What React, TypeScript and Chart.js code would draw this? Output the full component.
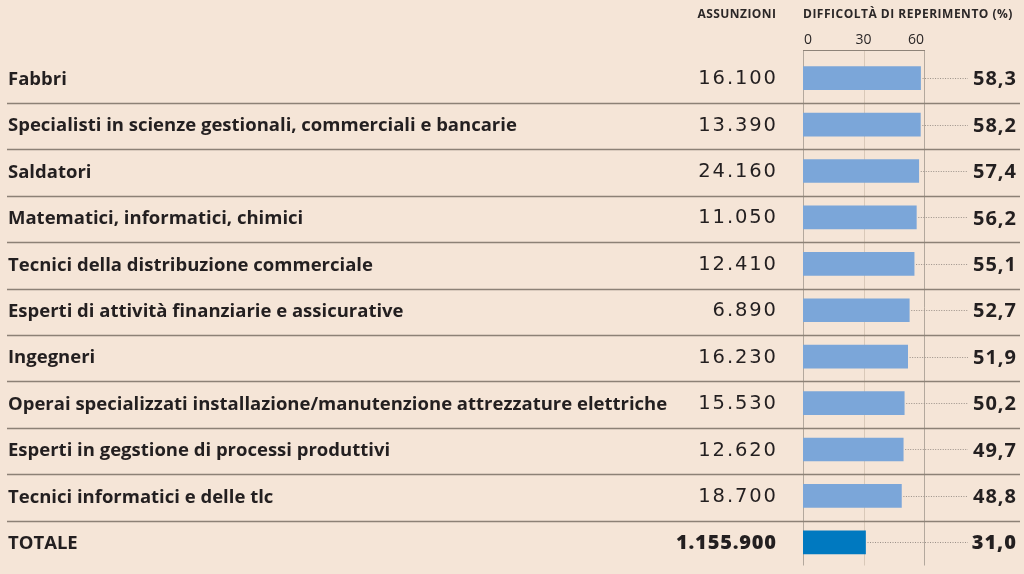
import { useEffect, useRef } from "react";
import { Chart, registerables } from "chart.js";
Chart.register(...registerables);

const categories = [
  "Fabbri",
  "Specialisti in scienze gestionali, commerciali e bancarie",
  "Saldatori",
  "Matematici, informatici, chimici",
  "Tecnici della distribuzione commerciale",
  "Esperti di attività finanziarie e assicurative",
  "Ingegneri",
  "Operai specializzati installazione/manutenzione attrezzature elettriche",
  "Esperti in gegstione di processi produttivi",
  "Tecnici informatici e delle tlc",
  "TOTALE",
];
const hires = [16100, 13390, 24160, 11050, 12410, 6890, 16230, 15530, 12620, 18700, 1155900];
const difficulty = [58.3, 58.2, 57.4, 56.2, 55.1, 52.7, 51.9, 50.2, 49.7, 48.8, 31.0];
const axisTicks = [0, 30, 60];
const headerHires = "ASSUNZIONI";
const headerDiff = "DIFFICOLTÀ DI REPERIMENTO (%)";

const BG = "#f5e5d7";
const BAR = "#7ba6d9";
const BAR_TOTAL = "#0079c0";
const TEXT = "#231f20";

function fmtThousands(n: number): string {
  const s = String(Math.round(n));
  let out = "";
  for (let i = 0; i < s.length; i++) {
    const fromEnd = s.length - i;
    out += s[i];
    if (fromEnd > 1 && (fromEnd - 1) % 3 === 0) out += ".";
  }
  return out;
}
function fmtPct(v: number): string {
  return v.toFixed(1).replace(".", ",");
}

function drawRight(ctx: any, text: string, x: number, y: number, spacing: number) {
  ctx.letterSpacing = spacing + "px";
  ctx.textAlign = "right";
  ctx.fillText(text, x + spacing, y);
  ctx.letterSpacing = "0px";
}

export default function App() {
  const ref = useRef<HTMLCanvasElement | null>(null);
  useEffect(() => {
    const canvas = ref.current;
    if (!canvas) return;
    const last = categories.length - 1;
    const overlay = {
      id: "tableOverlay",
      beforeDatasetsDraw(chart: any) {
        const ctx = chart.ctx;
        const xs = chart.scales.x;
        const ys = chart.scales.y;
        const band = ys.getPixelForValue(1) - ys.getPixelForValue(0);
        const x0 = xs.getPixelForValue(axisTicks[0]);
        const xN = xs.getPixelForValue(axisTicks[axisTicks.length - 1]);
        const topY = 50;
        const botY = ys.getPixelForValue(last) + band / 2;
        ctx.save();
        axisTicks.forEach((t, i) => {
          const x = Math.round(xs.getPixelForValue(t)) + 0.5;
          ctx.strokeStyle = i === 1 ? "#d9c9b9" : "#b3a89d";
          ctx.lineWidth = 1;
          ctx.beginPath();
          ctx.moveTo(x, topY);
          ctx.lineTo(x, botY);
          ctx.stroke();
        });
        ctx.strokeStyle = "#8e8378";
        ctx.beginPath();
        ctx.moveTo(Math.round(x0), topY + 0.5);
        ctx.lineTo(Math.round(xN) + 1, topY + 0.5);
        ctx.stroke();
        ctx.strokeStyle = "#8c8176";
        ctx.lineWidth = 1.3;
        for (let i = 0; i < last; i++) {
          const y = Math.round(ys.getPixelForValue(i) + band / 2 + 1.5) + 0.5;
          ctx.beginPath();
          ctx.moveTo(7, y);
          ctx.lineTo(1020, y);
          ctx.stroke();
        }
        ctx.restore();
      },
      afterDatasetsDraw(chart: any) {
        const ctx = chart.ctx;
        const xs = chart.scales.x;
        const ys = chart.scales.y;
        ctx.save();
        ctx.fillStyle = "#2b2727";
        ctx.textBaseline = "middle";
        ctx.font = "bold 12px 'Open Sans'";
        drawRight(ctx, headerHires, 776, 15, 0.45);
        ctx.textAlign = "left";
        ctx.letterSpacing = "0.5px";
        ctx.fillText(headerDiff, 803, 15);
        ctx.letterSpacing = "0px";
        ctx.font = "14px 'Open Sans'";
        axisTicks.forEach((t, i) => {
          const x = xs.getPixelForValue(t);
          ctx.textAlign = i === 0 ? "left" : i === axisTicks.length - 1 ? "right" : "center";
          ctx.fillText(String(t), i === 0 ? x + 1 : x, 40);
        });
        categories.forEach((c, i) => {
          const y = ys.getPixelForValue(i);
          const ty = y + 1.5;
          const isTot = i === last;
          const xEnd = xs.getPixelForValue(difficulty[i]);
          ctx.strokeStyle = "#9a9088";
          ctx.lineWidth = 1;
          ctx.setLineDash([1, 1.5]);
          ctx.beginPath();
          ctx.moveTo(xEnd + 2, Math.round(y) + 0.5);
          ctx.lineTo(968, Math.round(y) + 0.5);
          ctx.stroke();
          ctx.setLineDash([]);
          ctx.fillStyle = TEXT;
          ctx.textBaseline = "middle";
          ctx.textAlign = "left";
          ctx.font = "bold 18.5px 'Open Sans'";
          ctx.fillText(c, 8, ty);
          if (isTot) {
            ctx.font = "800 20px 'Open Sans'";
            drawRight(ctx, fmtThousands(hires[i]), 776, ty, 0.8);
          } else {
            ctx.font = "19.5px 'DejaVu Sans'";
            drawRight(ctx, fmtThousands(hires[i]), 776, y + 1, 1.9);
          }
          ctx.font = (isTot ? "800 " : "bold ") + "20px 'Open Sans'";
          drawRight(ctx, fmtPct(difficulty[i]), 1016, ty, 1);
        });
        ctx.restore();
      },
    };
    const chart = new Chart(canvas, {
      type: "bar",
      data: {
        labels: categories,
        datasets: [
          {
            data: difficulty,
            backgroundColor: difficulty.map((_, i) => (i === last ? BAR_TOTAL : BAR)),
            barThickness: 23,
            borderWidth: 0,
          },
        ],
      },
      options: {
        indexAxis: "y",
        animation: false,
        responsive: false,
        devicePixelRatio: 1,
        layout: { padding: { left: 803, right: 100, top: 55, bottom: 8.5 } },
        plugins: { legend: { display: false }, tooltip: { enabled: false } },
        scales: {
          x: { type: "linear", min: 0, max: 60, display: false },
          y: { type: "category", display: false, offset: true },
        },
      },
      plugins: [overlay],
    } as any);
    return () => chart.destroy();
  }, []);
  return (
    <div style={{ position: "absolute", left: 0, top: 0, width: 1024, height: 574, background: BG }}>
      <canvas ref={ref} width={1024} height={574} style={{ display: "block", width: 1024, height: 574 }} />
    </div>
  );
}
